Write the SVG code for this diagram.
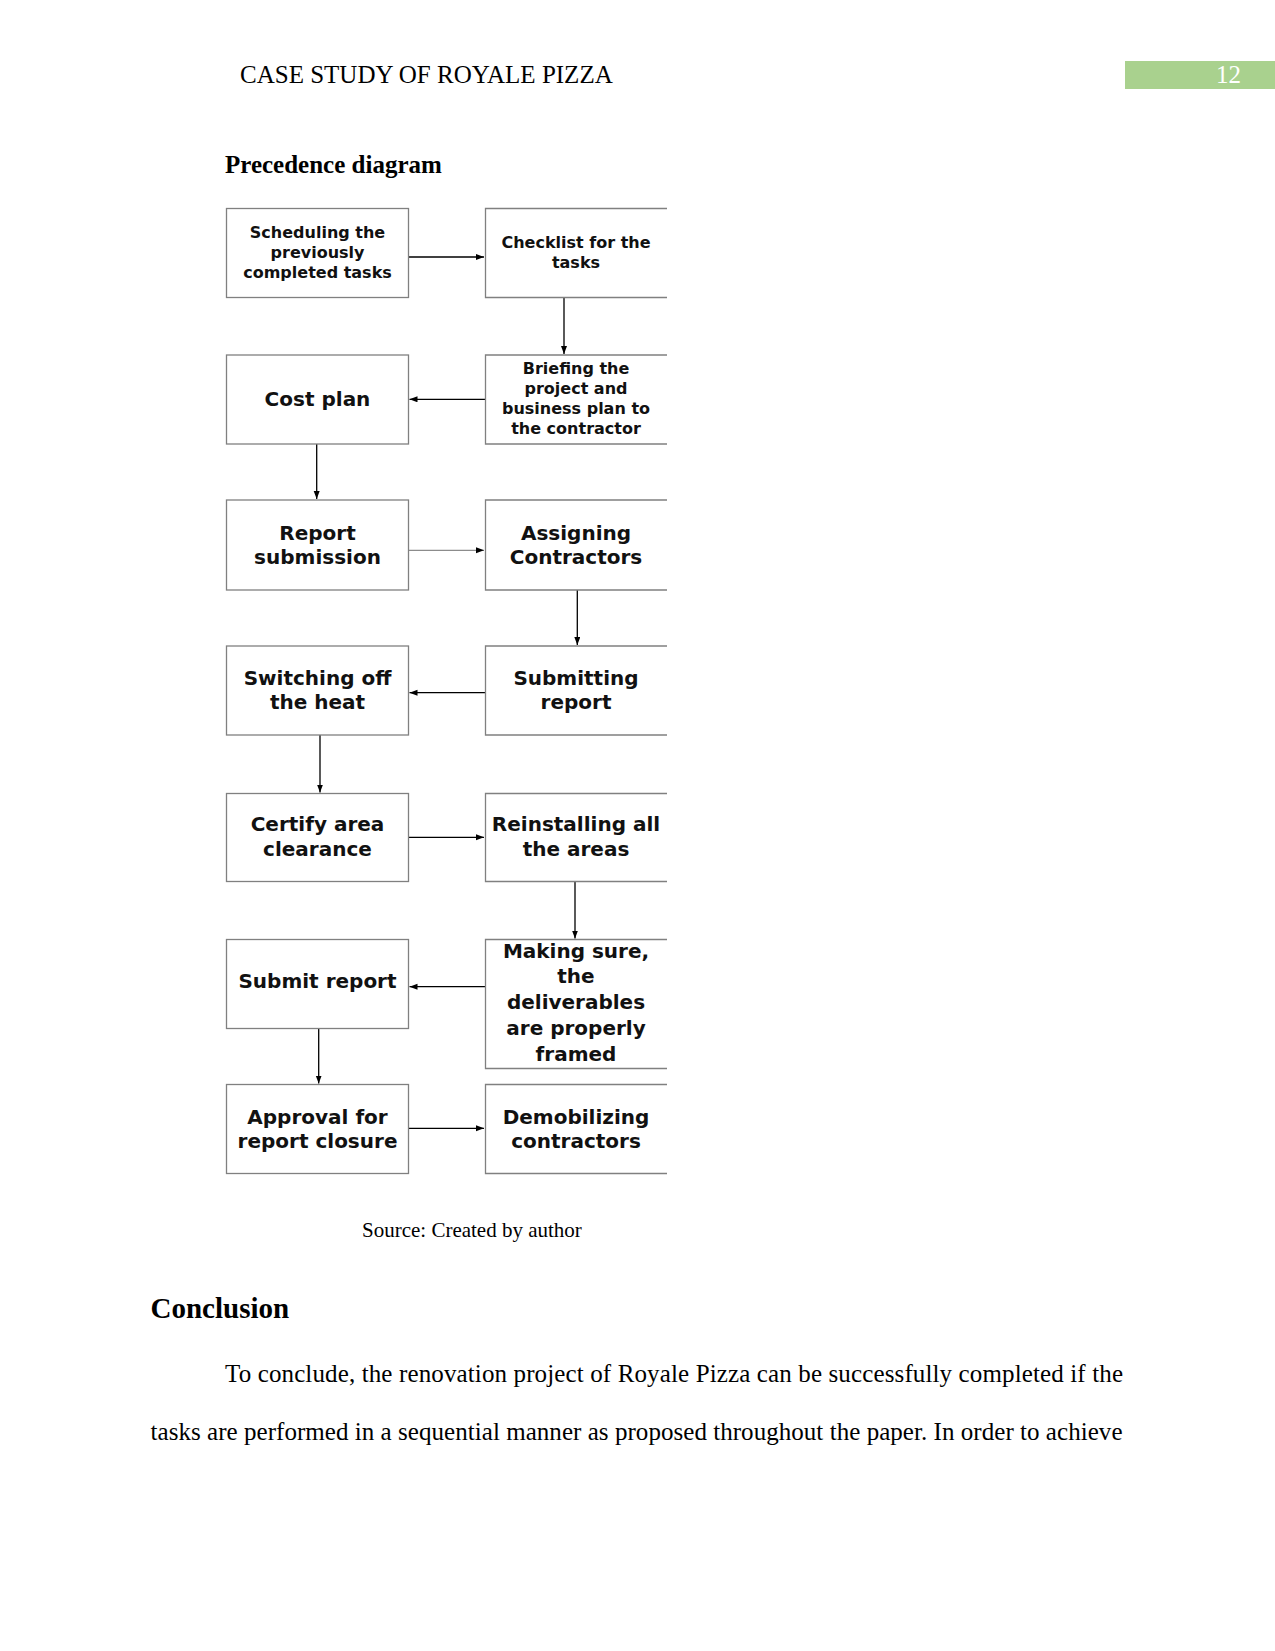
<svg xmlns="http://www.w3.org/2000/svg" width="1275" height="1651" viewBox="0 0 1275 1651">
<style>
.serif{font-family:"Liberation Serif","Times New Roman",serif;fill:#000}
.box{fill:none;stroke:#808080;stroke-width:1.3}
.lbl{font-family:"DejaVu Sans",Verdana,sans-serif;font-weight:bold;fill:#111;text-anchor:middle}
.s16{font-size:16px}
.s20{font-size:20px}
.conn{stroke:#000;stroke-width:1.3;fill:none;marker-end:url(#ah)}
.grey{stroke:#8c8c8c}
</style>
<defs>
<marker id="ah" markerUnits="userSpaceOnUse" markerWidth="9" markerHeight="7" refX="8" refY="3" orient="auto">
<path d="M0,0 L8,3 L0,6 z" fill="#000"/>
</marker>
</defs>
<rect width="1275" height="1651" fill="#fff"/>
<g id="header">
<text class="serif" x="240" y="83" font-size="25">CASE STUDY OF ROYALE PIZZA</text>
<rect x="1125" y="61" width="150" height="28" fill="#A9D18E"/>
<text x="1216" y="83" font-size="25" font-family="Liberation Serif,serif" fill="#fff">12</text>
</g>
<text class="serif" x="225" y="173" font-size="25" font-weight="bold">Precedence diagram</text>

<g id="connectors">
<line class="conn" x1="408.5" y1="257" x2="484" y2="257"/>
<line class="conn" x1="564" y1="297.5" x2="564" y2="354"/>
<line class="conn" x1="485.5" y1="399.3" x2="409.5" y2="399.3"/>
<line class="conn" x1="316.7" y1="444" x2="316.7" y2="499"/>
<line class="conn grey" x1="408.5" y1="550.3" x2="484" y2="550.3"/>
<line class="conn" x1="577.3" y1="590" x2="577.3" y2="645"/>
<line class="conn" x1="485.5" y1="692.7" x2="409.5" y2="692.7"/>
<line class="conn" x1="320" y1="735" x2="320" y2="792.5"/>
<line class="conn" x1="408.5" y1="837.3" x2="484" y2="837.3"/>
<line class="conn" x1="575" y1="881.5" x2="575" y2="938.5"/>
<line class="conn" x1="485.5" y1="986.7" x2="409.5" y2="986.7"/>
<line class="conn" x1="318.7" y1="1028.5" x2="318.7" y2="1083.5"/>
<line class="conn" x1="408.5" y1="1128.3" x2="484" y2="1128.3"/>
</g>

<g id="n1">
<rect class="box" x="226.5" y="208.5" width="182" height="89"/>
<text class="lbl s16" x="317.5" y="238.3">Scheduling the</text>
<text class="lbl s16" x="317.5" y="258.3">previously</text>
<text class="lbl s16" x="317.5" y="278.3">completed tasks</text>
</g>
<g id="n2">
<path class="box" d="M667,208.5 H485.5 V297.5 H667"/>
<text class="lbl s16" x="576" y="248.3">Checklist for the</text>
<text class="lbl s16" x="576" y="268.3">tasks</text>
</g>
<g id="n3">
<path class="box" d="M667,355 H485.5 V444 H667"/>
<text class="lbl s16" x="576" y="374">Briefing the</text>
<text class="lbl s16" x="576" y="394">project and</text>
<text class="lbl s16" x="576" y="414">business plan to</text>
<text class="lbl s16" x="576" y="434">the contractor</text>
</g>
<g id="n4">
<rect class="box" x="226.5" y="355" width="182" height="89"/>
<text class="lbl s20" x="317.5" y="406">Cost plan</text>
</g>
<g id="n5">
<rect class="box" x="226.5" y="500" width="182" height="90"/>
<text class="lbl s20" x="317.5" y="540">Report</text>
<text class="lbl s20" x="317.5" y="564">submission</text>
</g>
<g id="n6">
<path class="box" d="M667,500 H485.5 V590 H667"/>
<text class="lbl s20" x="576" y="540">Assigning</text>
<text class="lbl s20" x="576" y="564">Contractors</text>
</g>
<g id="n7">
<path class="box" d="M667,646 H485.5 V735 H667"/>
<text class="lbl s20" x="576" y="685">Submitting</text>
<text class="lbl s20" x="576" y="709">report</text>
</g>
<g id="n8">
<rect class="box" x="226.5" y="646" width="182" height="89"/>
<text class="lbl s20" x="317.5" y="685">Switching off</text>
<text class="lbl s20" x="317.5" y="709">the heat</text>
</g>
<g id="n9">
<rect class="box" x="226.5" y="793.5" width="182" height="88"/>
<text class="lbl s20" x="317.5" y="831">Certify area</text>
<text class="lbl s20" x="317.5" y="856">clearance</text>
</g>
<g id="n10">
<path class="box" d="M667,793.5 H485.5 V881.5 H667"/>
<text class="lbl s20" x="576" y="831">Reinstalling all</text>
<text class="lbl s20" x="576" y="856">the areas</text>
</g>
<g id="n11">
<path class="box" d="M667,939.5 H485.5 V1068.5 H667"/>
<text class="lbl s20" x="576" y="957.5">Making sure,</text>
<text class="lbl s20" x="576" y="983">the</text>
<text class="lbl s20" x="576" y="1009">deliverables</text>
<text class="lbl s20" x="576" y="1035">are properly</text>
<text class="lbl s20" x="576" y="1060.5">framed</text>
</g>
<g id="n12">
<rect class="box" x="226.5" y="939.5" width="182" height="89"/>
<text class="lbl s20" x="317.5" y="988">Submit report</text>
</g>
<g id="n13">
<rect class="box" x="226.5" y="1084.5" width="182" height="89"/>
<text class="lbl s20" x="317.5" y="1124">Approval for</text>
<text class="lbl s20" x="317.5" y="1148">report closure</text>
</g>
<g id="n14">
<path class="box" d="M667,1084.5 H485.5 V1173.5 H667"/>
<text class="lbl s20" x="576" y="1124">Demobilizing</text>
<text class="lbl s20" x="576" y="1148">contractors</text>
</g>

<text class="serif" x="362" y="1237" font-size="21">Source: Created by author</text>
<text class="serif" x="150.5" y="1318" font-size="29" font-weight="bold">Conclusion</text>
<text class="serif" x="225" y="1382" font-size="25" textLength="898" lengthAdjust="spacing">To conclude, the renovation project of Royale Pizza can be successfully completed if the</text>
<text class="serif" x="150.5" y="1440" font-size="25" textLength="972" lengthAdjust="spacing">tasks are performed in a sequential manner as proposed throughout the paper. In order to achieve</text>
</svg>
